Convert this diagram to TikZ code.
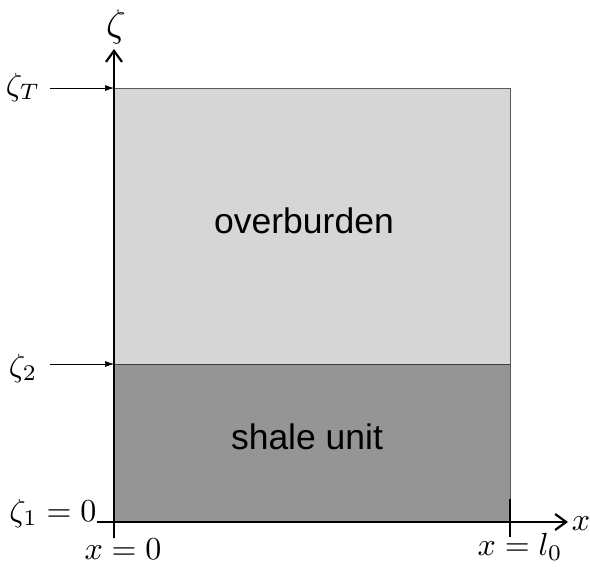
\documentclass[tikz,border=0pt]{standalone}
\usepackage{fontspec}
\newfontfamily\labelfont{Liberation Sans}
\usetikzlibrary{arrows.meta}
\definecolor{lightlayer}{gray}{0.84}
\definecolor{darklayer}{gray}{0.585}
\tikzset{
  axis/.style={line width=2.6pt},
  pointer/.style={line width=0.6pt,-{Latex[length=9pt,width=6pt]}},
  mathlab/.style={inner sep=0pt,scale=3.2},
  layerlab/.style={inner sep=0pt,font=\labelfont,scale=3.55},
}
\begin{document}
\begin{tikzpicture}[x=1pt,y=-1pt]
\useasboundingbox (0,0) rectangle (590,566);
% layers
\fill[lightlayer] (114,88) rectangle (510,364);
\fill[darklayer] (114,364) rectangle (510,522);
\draw[gray!70!black,line width=0.6pt] (114,88) -- (510,88) -- (510,522);
\draw[gray!50!black,line width=0.6pt] (114,364) -- (510,364);
% nodes
\node[layerlab] (over) at (304,221) {overburden};
\node[layerlab] (shale) at (307,437) {shale unit};
\node[mathlab,scale=1.2] (zeta) at (116,27) {$\zeta$};
\node[mathlab] (zT) at (23,87) {$\zeta_T$};
\node[mathlab] (z2) at (23,368) {$\zeta_2$};
\node[mathlab] (z1) at (53,513) {$\zeta_1=0$};
\node[mathlab] (x0) at (123,549) {$x=0$};
\node[mathlab] (xl) at (520,547) {$x=l_0$};
\node[mathlab] (xlab) at (581,524) {$x$};
% axes
\coordinate (xs) at (97,522);
\coordinate (xe) at (568,522);
\coordinate (ys) at (114,538);
\coordinate (ye) at (114,49);
\draw[axis,-{Straight Barb[length=11pt,width=16pt,line width=2.2pt]}] (xs) -- (xe);
\draw[axis,-{Straight Barb[length=11pt,width=16pt,line width=2.2pt]}] (ys) -- (ye);
\coordinate (tt) at (510,499);
\coordinate (tb) at (510,537);
\draw[axis] (tt) -- (tb);
% pointers
\coordinate (pT) at (50,88);
\coordinate (qT) at (114,88);
\coordinate (p2) at (50,364);
\coordinate (q2) at (114,364);
\draw[pointer] (pT) -- (qT);
\draw[pointer] (p2) -- (q2);
\end{tikzpicture}
\end{document}
